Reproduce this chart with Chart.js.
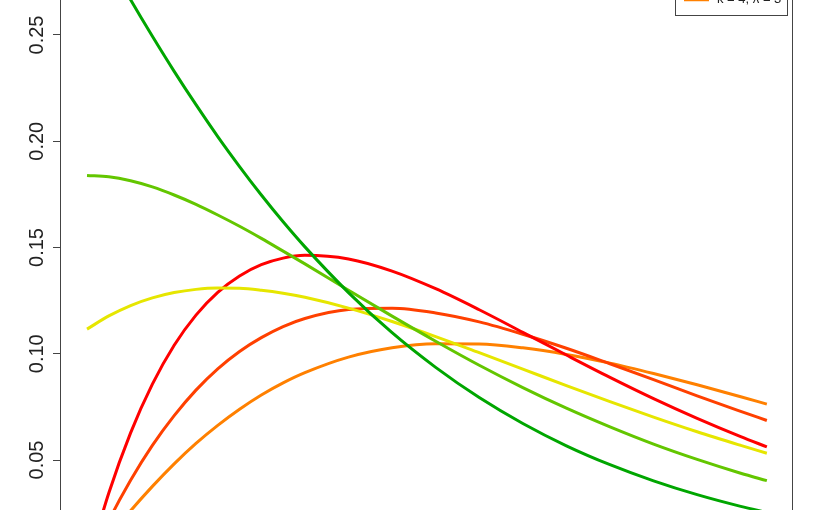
<!DOCTYPE html>
<html>
<head>
<meta charset="utf-8">
<script src="https://cdn.jsdelivr.net/npm/chart.js@4.4.0/dist/chart.umd.min.js"></script>
<style>
html, body { margin: 0; padding: 0; background: #fff; overflow: hidden; }
#wrap { position: relative; width: 825px; height: 510px; overflow: hidden; }
#plot { position: absolute; left: 0; top: -120px; }
</style>
</head>
<body>
<div id="wrap"><canvas id="plot" width="825" height="732"></canvas></div>
<script>
// x positions of the sampled points
const xs = [0, 0.25, 0.5, 0.75, 1, 1.25, 1.5, 1.75, 2, 2.25, 2.5,
            3, 3.5, 4, 4.5, 5, 5.5, 6, 6.5, 7, 7.5, 7.8];

const labels = ["k = 2, \u03bb = 1", "k = 2, \u03bb = 2", "k = 2, \u03bb = 3",
                "k = 4, \u03bb = 1", "k = 4, \u03bb = 2", "k = 4, \u03bb = 3"];
const colors = ["#00A600", "#63C600", "#E6E600", "#FF0000", "#FF4000", "#FF8000"];

const k2l1 = [0.3033, 0.2846, 0.2666, 0.2494, 0.2329, 0.2172, 0.2022, 0.1881, 0.1747, 0.1621, 0.1503,
              0.1288, 0.1099, 0.0936, 0.0794, 0.0672, 0.0567, 0.0478, 0.0402, 0.0337, 0.0282, 0.0254];
const k2l2 = [0.1839, 0.1833, 0.1814, 0.1785, 0.1747, 0.1703, 0.1653, 0.1600, 0.1543, 0.1483, 0.1423,
              0.1299, 0.1177, 0.1059, 0.0946, 0.0841, 0.0744, 0.0656, 0.0575, 0.0503, 0.0438, 0.0403];
const k2l3 = [0.1116, 0.1178, 0.1227, 0.1263, 0.1288, 0.1303, 0.1309, 0.1308, 0.1299, 0.1285, 0.1266,
              0.1215, 0.1152, 0.1081, 0.1005, 0.0928, 0.0850, 0.0775, 0.0702, 0.0633, 0.0569, 0.0532];
const k4l1 = [0, 0.0345, 0.0628, 0.0857, 0.1040, 0.1182, 0.1289, 0.1366, 0.1419, 0.1450, 0.1463,
              0.1446, 0.1389, 0.1306, 0.1207, 0.1101, 0.0994, 0.0889, 0.0789, 0.0696, 0.0610, 0.0562];
const k4l2 = [0, 0.0216, 0.0405, 0.0569, 0.0709, 0.0829, 0.0929, 0.1011, 0.1076, 0.1128, 0.1166,
              0.1208, 0.1214, 0.1192, 0.1150, 0.1092, 0.1026, 0.0953, 0.0878, 0.0802, 0.0729, 0.0686];
const k4l3 = [0, 0.0135, 0.0261, 0.0376, 0.0482, 0.0578, 0.0663, 0.0739, 0.0806, 0.0863, 0.0911,
              0.0984, 0.1028, 0.1047, 0.1046, 0.1028, 0.0997, 0.0956, 0.0907, 0.0854, 0.0798, 0.0763];

const yTicks = [0, 0.05, 0.10, 0.15, 0.20, 0.25, 0.30];

const series = [k2l1, k2l2, k2l3, k4l1, k4l2, k4l3];

// box round the plot and the legend in the top right corner
const rBox = {
    id: "rBox",
    afterDraw(chart) {
        const ctx = chart.ctx;
        const a = chart.chartArea;
        ctx.save();
        ctx.strokeStyle = "#444";
        ctx.lineWidth = 1;
        ctx.strokeRect(Math.round(a.left) + 0.5, Math.round(a.top) + 0.5,
                       Math.round(a.right - a.left) - 1, Math.round(a.bottom - a.top));

        ctx.font = '13px "Liberation Sans", Arial, sans-serif';
        const sets = chart.data.datasets;
        const tw = Math.max(...sets.map(d => ctx.measureText(d.label).width));
        const rowH = 16.5, pad = 7;
        const w = Math.round(42 + tw + 6), h = Math.round(pad * 2 + rowH * sets.length);
        const right = Math.round(a.right) - 6, top = Math.round(a.top) + 6;
        const left = right - w;
        ctx.fillStyle = "#fff";
        ctx.fillRect(left, top, w, h);
        ctx.strokeRect(left + 0.5, top + 0.5, w, h);
        sets.forEach((d, i) => {
            const cy = top + pad + (i + 0.5) * rowH;
            ctx.strokeStyle = d.borderColor;
            ctx.lineWidth = 3;
            ctx.beginPath();
            ctx.moveTo(left + 9, cy);
            ctx.lineTo(left + 34, cy);
            ctx.stroke();
            ctx.fillStyle = "#222";
            ctx.textBaseline = "middle";
            ctx.textAlign = "left";
            ctx.fillText(d.label, left + 42, cy);
        });
        ctx.restore();
    }
};

new Chart(document.getElementById("plot"), {
    type: "line",
    data: {
        datasets: series.map((s, i) => ({
            label: labels[i],
            data: xs.map((x, j) => ({x: x, y: s[j]})),
            borderColor: colors[i],
            borderWidth: 3,
            pointRadius: 0,
            fill: false,
            cubicInterpolationMode: "monotone"
        }))
    },
    options: {
        responsive: false,
        animation: false,
        layout: {padding: {left: 18, right: 32, top: 16, bottom: 20}},
        plugins: {legend: {display: false}, tooltip: {enabled: false}},
        scales: {
            x: {type: "linear", min: -0.31, max: 8.1, display: false},
            y: {
                type: "linear",
                min: -0.0121,
                max: 0.3154,
                afterBuildTicks: scale => { scale.ticks = yTicks.map(v => ({value: v})); },
                afterFit: scale => { scale.width = 42; },
                ticks: {
                    minRotation: 90,
                    maxRotation: 90,
                    crossAlign: "center",
                    padding: -4,
                    color: "#222",
                    font: {family: '"Liberation Sans", Arial, sans-serif', size: 20},
                    callback: v => Number(v).toFixed(2)
                },
                grid: {drawOnChartArea: false, drawTicks: true, tickLength: 7, tickColor: "#444"},
                border: {display: false}
            }
        }
    },
    plugins: [rBox]
});
</script>
</body>
</html>
